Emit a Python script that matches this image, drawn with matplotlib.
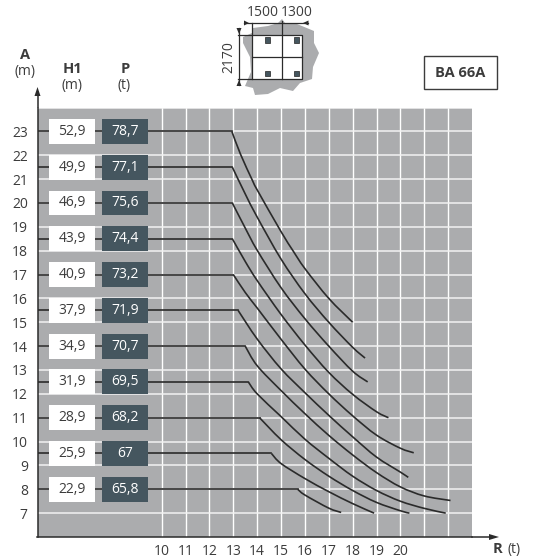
import matplotlib
matplotlib.use("Agg")
import matplotlib.pyplot as plt
from matplotlib.patches import PathPatch, Polygon, Rectangle
from matplotlib.path import Path

plt.rcParams['font.family'] = ['Open Sans', 'DejaVu Sans']

# --- datos ---
h1 = ["52,9", "49,9", "46,9", "43,9", "40,9", "37,9", "34,9", "31,9", "28,9", "25,9", "22,9"]
p = ["78,7", "77,1", "75,6", "74,4", "73,2", "71,9", "70,7", "69,5", "68,2", "67", "65,8"]
a_row = [23, 21.5, 20, 18.5, 17, 15.5, 14, 12.5, 11, 9.5, 8]

# curvas: R (t), A (m)
r1 = [12.94, 13.3, 13.8, 14.0, 15.0, 15.5, 16.0, 17.0, 18.0]
a1 = [23, 22.05, 20.95, 20.55, 18.8, 18.0, 17.25, 16.0, 15]
r2 = [12.96, 13.5, 14.0, 15.0, 16.0, 17.0, 18.0, 18.52]
a2 = [21.5, 20.38, 19.41, 17.65, 16.2, 15.0, 13.95, 13.5]
r3 = [12.96, 13.5, 14.0, 15.0, 16.0, 17.0, 18.0, 18.63]
a3 = [20, 18.95, 18.02, 16.45, 15.15, 14.0, 12.95, 12.5]
r4 = [12.96, 13.5, 14.0, 15.0, 16.0, 17.0, 18.0, 19.0, 19.5]
a4 = [18.5, 17.55, 16.75, 15.33, 14.05, 12.9, 11.98, 11.25, 11]
r5 = [13.0, 13.5, 14.0, 15.0, 16.0, 17.0, 18.0, 19.0, 20.0, 20.56]
a5 = [17, 16.25, 15.6, 14.29, 13.04, 12.0, 11.08, 10.27, 9.72, 9.53]
r6 = [13.2, 14.0, 15.0, 16.0, 17.0, 18.0, 19.0, 20.0, 20.33]
a6 = [15.5, 14.3, 13.05, 12.05, 11.1, 10.2, 9.35, 8.72, 8.5]
r7 = [13.5, 14.0, 15.0, 16.0, 17.0, 18.0, 19.0, 20.0, 21.0, 22.1]
a7 = [14, 13.18, 12.14, 11.17, 10.26, 9.44, 8.7, 8.1, 7.72, 7.53]
r8 = [13.63, 14.0, 15.0, 16.0, 17.0, 18.0, 19.0, 20.0, 21.0, 21.9]
a8 = [12.5, 12.0, 11.05, 10.1, 9.3, 8.55, 7.95, 7.5, 7.2, 7.0]
r9 = [14.1, 15.0, 16.0, 17.0, 18.0, 19.0, 20.0, 20.38]
a9 = [11, 10.08, 9.25, 8.55, 7.95, 7.45, 7.1, 7.0]
r10 = [14.6, 15.0, 16.0, 17.0, 18.0, 18.9]
a10 = [9.5, 9.08, 8.45, 7.9, 7.4, 7.0]
r11 = [15.7, 16.0, 17.0, 17.52]
a11 = [8, 7.76, 7.21, 7.03]
curvas_r = [r1, r2, r3, r4, r5, r6, r7, r8, r9, r10, r11]
curvas_a = [a1, a2, a3, a4, a5, a6, a7, a8, a9, a10, a11]

ticks_a = list(range(7, 24))
ticks_r = list(range(10, 21))

GRIS = '#abacae'
OSCURO = '#45565f'
TEXTO = '#3c3c3c'
LINEA = '#2b2b2b'


def trazo_suave(xs, ys):
    # bezier que pasa por los puntos leidos (Catmull-Rom)
    pts = list(zip(xs, ys))
    verts = [pts[0]]
    codes = [Path.MOVETO]
    for i in range(len(pts) - 1):
        p0 = pts[max(i - 1, 0)]
        p1 = pts[i]
        p2 = pts[i + 1]
        p3 = pts[min(i + 2, len(pts) - 1)]
        c1 = (p1[0] + (p2[0] - p0[0]) / 6, p1[1] + (p2[1] - p0[1]) / 6)
        c2 = (p2[0] - (p3[0] - p1[0]) / 6, p2[1] - (p3[1] - p1[1]) / 6)
        verts += [c1, c2, p2]
        codes += [Path.CURVE4] * 3
    return Path(verts, codes)


W, H = 537, 558
fig = plt.figure(figsize=(W / 100, H / 100), dpi=100, facecolor='white')
ax = fig.add_axes([37.5 / W, (H - 537) / H, (472 - 37.5) / W, (537 - 107.5) / H])
ax.set_xlim(4.8, 23)
ax.set_ylim(6, 24)
ax.set_facecolor(GRIS)

for s in ['top', 'right']:
    ax.spines[s].set_visible(False)
for s in ['left', 'bottom']:
    ax.spines[s].set_color(LINEA)
    ax.spines[s].set_linewidth(1.1)

ax.set_xticks(ticks_r)
ax.set_yticks(ticks_a)
ax.set_xticklabels([str(t) for t in ticks_r])
ax.set_yticklabels([str(t) for t in ticks_a])
ax.tick_params(length=0, labelsize=10, labelcolor=TEXTO)
ax.tick_params(axis='x', pad=5)
ax.tick_params(axis='y', pad=7)

for v in range(10, 23):
    ax.axvline(v, color='white', lw=1, zorder=1)
for v in ticks_a + [24]:
    ax.axhline(v, color='#f2f2f2', lw=1.1, zorder=1)

# tramo horizontal desde el eje y luego la curva
for r, a in zip(curvas_r, curvas_a):
    ax.plot([ax.get_xlim()[0], r[0]], [a[0], a[0]], color=LINEA, lw=1.2, zorder=2)
    ax.add_patch(PathPatch(trazo_suave(r, a), fc='none', ec=LINEA, lw=1.2, zorder=2))

# cajas H1 y P
for fila, txt_h, txt_p in zip(a_row, h1, p):
    ax.add_patch(Rectangle((5.29, fila - 0.52), 1.93, 1.04, fc='white', ec='none', zorder=3))
    ax.add_patch(Rectangle((7.51, fila - 0.52), 1.93, 1.04, fc=OSCURO, ec='none', zorder=3))
    ax.text(6.255, fila, txt_h, ha='center', va='center', fontsize=10, color=TEXTO, zorder=4)
    ax.text(8.475, fila, txt_p, ha='center', va='center', fontsize=10, color='white', zorder=4)

# capa en pixeles para flechas, cabeceras y croquis
ov = fig.add_axes([0, 0, 1, 1], facecolor='none')
ov.set_xlim(0, W)
ov.set_ylim(H, 0)
ov.axis('off')

ov.plot([37.5, 37.5], [107, 92], color=LINEA, lw=1.1)
ov.plot([472, 494], [537, 537], color=LINEA, lw=1.1)
ov.add_patch(Polygon([(37.5, 87), (34.5, 96), (40.5, 96)], fc=LINEA, ec='none'))
ov.add_patch(Polygon([(499, 537), (489, 534), (489, 540)], fc=LINEA, ec='none'))

ov.text(25.5, 55, "A", ha='center', va='center', fontsize=10.5, fontweight='bold', color=TEXTO)
ov.text(25, 72, "(m)", ha='center', va='center', fontsize=10, color=TEXTO)
ov.text(72, 69, "H1", ha='center', va='center', fontsize=10.5, fontweight='bold', color=TEXTO)
ov.text(72, 86, "(m)", ha='center', va='center', fontsize=10, color=TEXTO)
ov.text(125, 69, "P", ha='center', va='center', fontsize=10.5, fontweight='bold', color=TEXTO)
ov.text(124.5, 86, "(t)", ha='center', va='center', fontsize=10, color=TEXTO)
ov.text(498, 549, "R", ha='center', va='center', fontsize=10.5, fontweight='bold', color=TEXTO)
ov.text(514, 549, "(t)", ha='center', va='center', fontsize=10, color=TEXTO)

ov.add_patch(Rectangle((424, 56), 72.7, 33.3, fc='white', ec=TEXTO, lw=1))
ov.text(460.3, 73, "BA 66A", ha='center', va='center', fontsize=10.5, fontweight='bold', color=TEXTO)

# croquis de la base
mancha = [(243, 37), (252, 33), (253, 28), (268, 26), (278, 23), (282, 19), (285, 23), (297, 24),
          (314, 31), (314, 43), (319, 53), (313, 67), (312, 79), (300, 83), (293, 91), (280, 88),
          (268, 94), (255, 95), (253, 88), (245, 86), (251, 72), (250, 57), (243, 43)]
ov.add_patch(Polygon(mancha, fc=GRIS, ec='none'))
ov.add_patch(Rectangle((251.7, 35), 50, 44, fc='white', ec='none'))
ov.plot([237.5, 301.7, 301.7, 237.5], [35, 35, 79, 79], color=LINEA, lw=0.9)
ov.plot([251.7, 251.7], [23, 79], color=LINEA, lw=0.9)
ov.plot([282.3, 282.3], [20.5, 79], color=LINEA, lw=0.9)
ov.plot([251.7, 301.7], [56.7, 56.7], color=LINEA, lw=0.9)
ov.plot([244.3, 308.3], [23, 23], color=LINEA, lw=0.9)
ov.plot([239.3, 239.3], [28, 85], color=LINEA, lw=0.9)
ov.add_patch(Polygon([(249, 23), (244, 20.5), (244, 25.5)], fc=LINEA, ec='none'))
ov.add_patch(Polygon([(303, 23), (308.5, 20.5), (308.5, 25.5)], fc=LINEA, ec='none'))
ov.add_patch(Polygon([(239, 34), (236.5, 28), (241.5, 28)], fc=LINEA, ec='none'))
ov.add_patch(Polygon([(239, 80), (236.5, 86), (241.5, 86)], fc=LINEA, ec='none'))
for cx, cy in [(267.7, 40), (296.7, 40), (267.7, 73.5), (296.7, 73.5)]:
    ov.add_patch(Rectangle((cx - 2.7, cy - 2.7), 5.4, 5.4, fc=OSCURO, ec='#222222', lw=0.5))
ov.text(263, 13, "1500", ha='center', va='center', fontsize=10, color=TEXTO)
ov.text(296.5, 13, "1300", ha='center', va='center', fontsize=10, color=TEXTO)
ov.text(229.3, 57.5, "2170", ha='center', va='center', rotation=90, fontsize=10, color=TEXTO)

fig.savefig('out.png', dpi=100, facecolor='white')
